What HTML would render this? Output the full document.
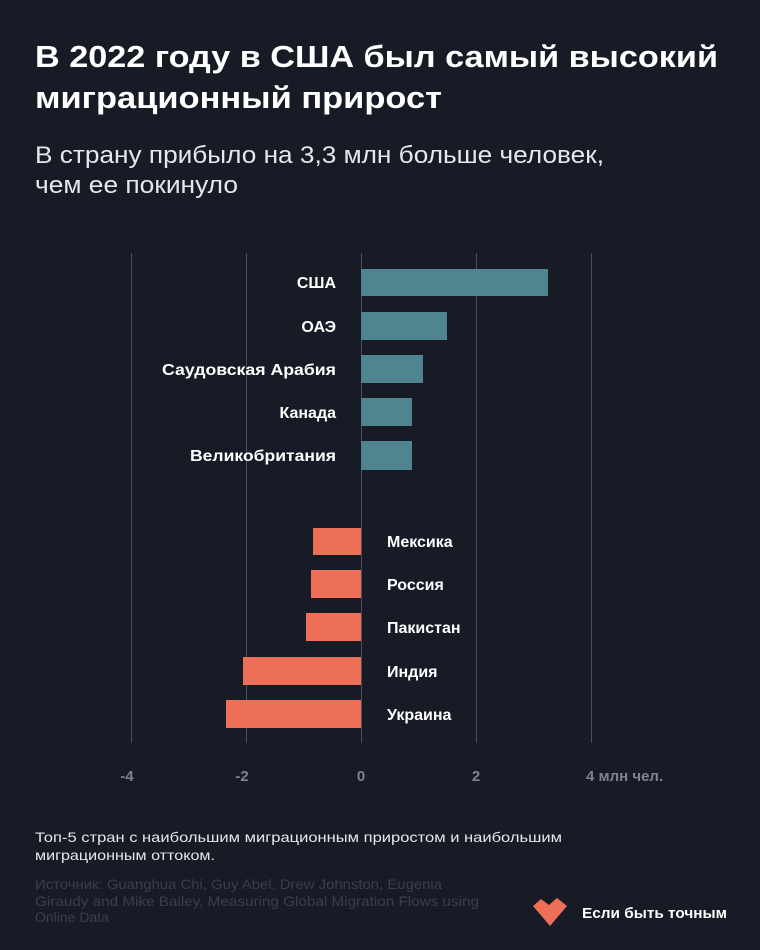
<!DOCTYPE html>
<html><head><meta charset="utf-8"><style>
html,body{margin:0;padding:0;background:#171b26;}
svg{display:block;font-family:"Liberation Sans","DejaVu Sans",sans-serif;}
</style></head><body>
<svg width="760" height="950" viewBox="0 0 760 950" xmlns="http://www.w3.org/2000/svg">
<rect width="760" height="950" fill="#171b26"/>
<g fill="#ffffff" font-weight="bold" font-size="31">
<text x="35" y="67" textLength="683" lengthAdjust="spacingAndGlyphs">В 2022 году в США был самый высокий</text>
<text x="35" y="108" textLength="407" lengthAdjust="spacingAndGlyphs">миграционный прирост</text>
</g>
<g fill="#e6e7ea" font-size="24">
<text x="35" y="163" textLength="569" lengthAdjust="spacingAndGlyphs">В страну прибыло на 3,3 млн больше человек,</text>
<text x="35" y="193" textLength="203" lengthAdjust="spacingAndGlyphs">чем ее покинуло</text>
</g>
<g stroke="#4a4f5c" stroke-width="1">
<line x1="131.5" y1="253" x2="131.5" y2="743"/>
<line x1="246.5" y1="253" x2="246.5" y2="743"/>
<line x1="361.5" y1="253" x2="361.5" y2="743"/>
<line x1="476.5" y1="253" x2="476.5" y2="743"/>
<line x1="591.5" y1="253" x2="591.5" y2="743"/>
</g>
<g fill="#4e8590">
<rect x="361" y="269" width="187" height="27"/>
<rect x="361" y="312" width="86" height="28"/>
<rect x="361" y="355" width="62" height="28"/>
<rect x="361" y="398" width="51" height="28"/>
<rect x="361" y="441" width="51" height="29"/>
</g>
<g fill="#ee6f57">
<rect x="313" y="528" width="48" height="27"/>
<rect x="311" y="570" width="50" height="28"/>
<rect x="306" y="613" width="55" height="28"/>
<rect x="243" y="657" width="118" height="28"/>
<rect x="226" y="700" width="135" height="28"/>
</g>
<g fill="#ffffff" font-weight="bold" font-size="16" text-anchor="end">
<text x="336" y="288">США</text>
<text x="336" y="332">ОАЭ</text>
<text x="336" y="375" textLength="174" lengthAdjust="spacingAndGlyphs">Саудовская Арабия</text>
<text x="336" y="418">Канада</text>
<text x="336" y="461" textLength="146" lengthAdjust="spacingAndGlyphs">Великобритания</text>
</g>
<g fill="#ffffff" font-weight="bold" font-size="16">
<text x="387" y="547">Мексика</text>
<text x="387" y="590">Россия</text>
<text x="387" y="633">Пакистан</text>
<text x="387" y="677">Индия</text>
<text x="387" y="720">Украина</text>
</g>
<g fill="#7e838e" font-weight="bold" font-size="15" text-anchor="middle">
<text x="127" y="781">-4</text>
<text x="242" y="781">-2</text>
<text x="361" y="781">0</text>
<text x="476" y="781">2</text>
<text x="586" y="781" text-anchor="start">4 млн чел.</text>
</g>
<g fill="#e6e7ea" font-size="14">
<text x="35" y="842" textLength="527" lengthAdjust="spacingAndGlyphs">Топ-5 стран с наибольшим миграционным приростом и наибольшим</text>
<text x="35" y="860" textLength="180" lengthAdjust="spacingAndGlyphs">миграционным оттоком.</text>
</g>
<g fill="#3a3f4b" font-size="14">
<text x="35" y="889" textLength="407" lengthAdjust="spacingAndGlyphs">Источник: Guanghua Chi, Guy Abel, Drew Johnston, Eugenia</text>
<text x="35" y="906" textLength="444" lengthAdjust="spacingAndGlyphs">Giraudy and Mike Bailey, Measuring Global Migration Flows using</text>
<text x="35" y="922">Online Data</text>
</g>
<path d="M533 906 L541 899 L549 905 L557 898 L567 906 L550 926 Z" fill="#ee6f57"/>
<text x="582" y="918" fill="#ffffff" font-weight="bold" font-size="15" textLength="145" lengthAdjust="spacingAndGlyphs">Если быть точным</text>
</svg>
</body></html>
